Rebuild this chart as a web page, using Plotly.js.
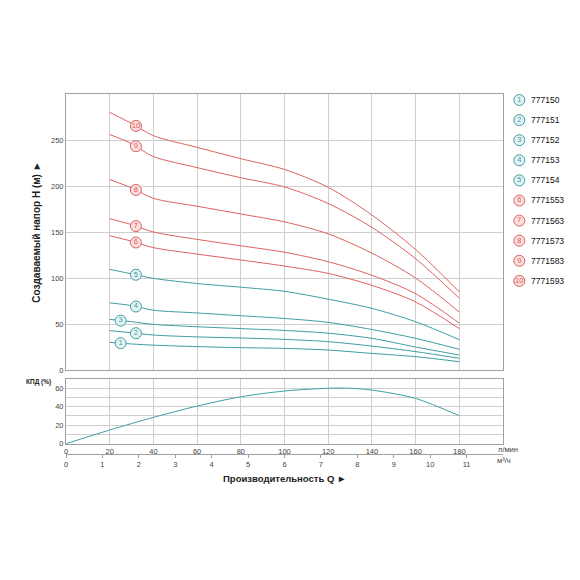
<!DOCTYPE html>
<html><head><meta charset="utf-8">
<script src="https://cdn.plot.ly/plotly-3.0.1.min.js"></script>
<style>html,body{margin:0;padding:0;background:#fff}</style>
</head><body>
<div id="chart" style="width:580px;height:580px"></div>
<script>
// ---- data ----
const flowQ = [20, 30, 40, 60, 80, 100, 120, 140, 160, 180];        // л/мин
const head1  = [30, 28.3, 27, 25.4, 24.3, 23.5, 21.7, 18, 14.5, 9];
const head2  = [42.8, 40.5, 38, 36, 34.8, 33.3, 30.8, 26, 20, 12.7];
const head3  = [55, 52.5, 49.6, 47, 45, 43, 40, 34.4, 25, 16.3];
const head4  = [73, 70, 65, 62, 59, 56, 51.8, 44, 34.4, 22.5];
const head5  = [109.4, 104.5, 99.6, 94, 90, 85.5, 77, 67, 52.5, 33];
const head6  = [146, 140, 133, 126, 119.6, 113, 105, 92, 74, 45];
const head7  = [164.5, 158, 150, 142, 135, 128, 117.7, 103, 83, 51];
const head8  = [207, 198, 186.6, 178, 169.6, 161, 148, 127, 100, 63];
const head9  = [256, 246, 232, 220, 209, 199, 181, 155, 121, 78];
const head10 = [280, 268, 254.7, 242, 229.7, 218, 198.6, 168.5, 131, 85];
const models = ['777150','777151','777152','777153','777154','7771553','7771563','7771573','7771583','7771593'];
const curveNums = ['1','2','3','4','5','6','7','8','9','10'];
const labelQ = [25, 32, 25, 32, 32, 32, 32, 32, 32, 32];   // where the circled number sits on each curve

const effQ = [0, 20, 40, 60, 80, 100, 120, 130, 140, 160, 180];
const effPct = [0, 14.8, 28.5, 40.7, 50.8, 57, 60, 60, 58, 49, 30.3];

const lpmTicks = [0, 20, 40, 60, 80, 100, 120, 140, 160, 180];
const m3hTicks = [0, 1, 2, 3, 4, 5, 6, 7, 8, 9, 10, 11];
const headTicks = [0, 50, 100, 150, 200, 250];
const effTicks = [0, 10, 20, 30, 40, 50, 60];
const effTickText = ['0', '', '20', '', '40', '', '60'];

// ---- style ----
const TEAL = '#3f9da3', RED = '#e0605f';
const TEAL_FILL = '#e3f2f2', RED_FILL = '#fadedc';
const FONT = 'Liberation Sans, Arial, sans-serif';
const GRID = '#cfcfcf', FRAME = '#a0a0a0';

const heads = [head1, head2, head3, head4, head5, head6, head7, head8, head9, head10];
const colOf = i => (i < 5 ? TEAL : RED);
const fillOf = i => (i < 5 ? TEAL_FILL : RED_FILL);

function interp(xs, ys, x) {
  for (let k = 0; k < xs.length - 1; k++) {
    if (x >= xs[k] && x <= xs[k + 1]) {
      const t = (x - xs[k]) / (xs[k + 1] - xs[k]);
      return ys[k] + t * (ys[k + 1] - ys[k]);
    }
  }
  return ys[ys.length - 1];
}

const traces = [];
heads.forEach((h, i) => {
  traces.push({x: flowQ, y: h, xaxis: 'x2', yaxis: 'y', mode: 'lines',
    line: {color: colOf(i), width: 1, shape: 'spline', smoothing: 0.8},
    hoverinfo: 'skip', showlegend: false});
});
// circled numbers on the curves
traces.push({
  x: labelQ, y: heads.map((h, i) => interp(flowQ, h, labelQ[i])),
  xaxis: 'x2', yaxis: 'y', mode: 'markers+text', text: curveNums,
  textposition: 'middle center', cliponaxis: false,
  textfont: {family: FONT, size: 7.5, color: heads.map((h, i) => colOf(i))},
  marker: {size: 11, color: heads.map((h, i) => fillOf(i)),
           line: {width: 1, color: heads.map((h, i) => colOf(i))}},
  hoverinfo: 'skip', showlegend: false
});
// efficiency
traces.push({x: effQ, y: effPct, xaxis: 'x', yaxis: 'y2', mode: 'lines',
  line: {color: TEAL, width: 1, shape: 'spline', smoothing: 0.8},
  hoverinfo: 'skip', showlegend: false});
// dummy for the m3/h axis
traces.push({x: [0, 12], y: [0, 0], xaxis: 'x3', yaxis: 'y2', mode: 'markers',
  marker: {opacity: 0}, hoverinfo: 'skip', showlegend: false});
// legend circles
traces.push({
  x: models.map(() => 16.3), y: models.map((m, i) => i + 1),
  xaxis: 'x4', yaxis: 'y4', mode: 'markers+text', text: curveNums,
  textposition: 'middle center', cliponaxis: false,
  textfont: {family: FONT, size: 7.5, color: models.map((m, i) => colOf(i))},
  marker: {size: 11, color: models.map((m, i) => fillOf(i)),
           line: {width: 1, color: models.map((m, i) => colOf(i))}},
  hoverinfo: 'skip', showlegend: false
});

const tickFont = {family: FONT, size: 7.5, color: '#444'};
const XDOM = [0, 0.86706];

const annotations = models.map((m, i) => ({
  xref: 'x4', yref: 'y4', x: 26.5, y: i + 1, xanchor: 'left', yanchor: 'middle',
  text: m, showarrow: false, font: {family: FONT, size: 8.5, color: '#111'}
}));
const paperNote = (x, y, text, size, color, extra) => Object.assign({
  xref: 'paper', yref: 'paper', x: x, y: y, xanchor: 'center', yanchor: 'middle',
  text: text, showarrow: false, font: {family: FONT, size: size, color: color}
}, extra || {});
annotations.push(
  paperNote(-0.0581, 0.6103, '<b>Создаваемый напор Н (м) ►</b>', 10, '#222', {textangle: -90}),
  paperNote(-0.0546, 0.2256, '<b>КПД (%)</b>', 6.5, '#222'),
  paperNote(0.8760, 0.0513, 'л/мин', 7.5, '#444'),
  paperNote(0.8690, 0.0256, 'м³/ч', 7.5, '#444'),
  paperNote(0.4339, -0.0223, '<b>Производительность Q ►</b>', 9.5, '#222')
);

const layout = {
  width: 580, height: 580,
  margin: {l: 66, r: 10, t: 80, b: 110},
  paper_bgcolor: '#fff', plot_bgcolor: '#fff',
  showlegend: false,
  font: {family: FONT},
  xaxis: {domain: XDOM, anchor: 'y2', range: [0, 200], tickvals: lpmTicks,
    showgrid: true, gridcolor: GRID, gridwidth: 1, zeroline: false,
    showline: true, linecolor: FRAME, linewidth: 1, mirror: true, ticks: '',
    tickfont: tickFont, fixedrange: true},
  xaxis2: {domain: XDOM, anchor: 'y', range: [0, 200], tickvals: lpmTicks,
    showticklabels: false, showgrid: true, gridcolor: GRID, zeroline: false,
    showline: true, linecolor: FRAME, linewidth: 1, mirror: true, ticks: '', fixedrange: true},
  xaxis3: {domain: XDOM, overlaying: 'x', anchor: 'free', position: 0.04103, side: 'bottom',
    range: [0, 12], tickvals: m3hTicks, showgrid: false, zeroline: false,
    showline: true, linecolor: FRAME, linewidth: 1, ticks: 'outside', ticklen: 3,
    tickcolor: FRAME, tickfont: tickFont, fixedrange: true},
  xaxis4: {domain: [0.86706, 1], anchor: 'y4', range: [0, 67], visible: false, fixedrange: true},
  yaxis: {domain: [0.25641, 0.96410], anchor: 'x2', range: [0, 300], tickvals: headTicks,
    showgrid: true, gridcolor: GRID, zeroline: false,
    showline: true, linecolor: FRAME, linewidth: 1, mirror: true, ticks: '',
    tickfont: tickFont, fixedrange: true},
  yaxis2: {domain: [0.06744, 0.23333], anchor: 'x', range: [0, 70], tickvals: effTicks,
    ticktext: effTickText, showgrid: true, gridcolor: GRID, zeroline: false,
    showline: true, linecolor: FRAME, linewidth: 1, mirror: true, ticks: '',
    tickfont: tickFont, fixedrange: true},
  yaxis4: {domain: [0.45910, 0.97449], anchor: 'x4', range: [10.5, 0.5], visible: false, fixedrange: true},
  annotations: annotations
};

Plotly.newPlot('chart', traces, layout, {staticPlot: true, displayModeBar: false});
</script>
</body></html>
